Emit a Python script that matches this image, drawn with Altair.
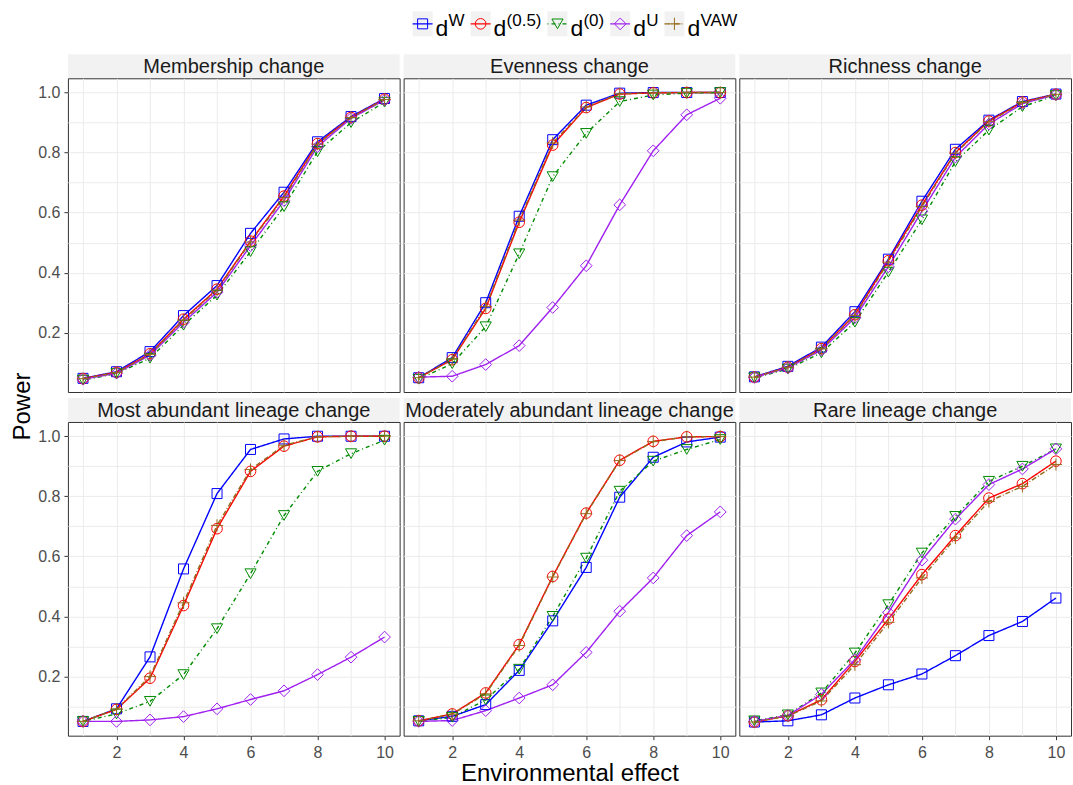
import json
import altair as alt
import pandas as pd

# ---------------- data ----------------
EFFECT = [1, 2, 3, 4, 5, 6, 7, 8, 9, 10]
SERIES = ["W", "0.5", "0", "U", "VAW"]
SUPERSCRIPTS = ["W", "(0.5)", "(0)", "U", "VAW"]
PANELS = ["Membership change", "Evenness change", "Richness change",
          "Most abundant lineage change", "Moderately abundant lineage change",
          "Rare lineage change"]

membership_W   = [0.048, 0.070, 0.137, 0.257, 0.357, 0.531, 0.668, 0.836, 0.920, 0.980]
membership_05  = [0.047, 0.068, 0.130, 0.245, 0.345, 0.505, 0.655, 0.830, 0.917, 0.978]
membership_0   = [0.042, 0.064, 0.115, 0.225, 0.325, 0.470, 0.620, 0.803, 0.900, 0.968]
membership_U   = [0.045, 0.065, 0.125, 0.235, 0.335, 0.490, 0.640, 0.820, 0.914, 0.975]
membership_VAW = [0.047, 0.067, 0.128, 0.242, 0.342, 0.502, 0.650, 0.828, 0.917, 0.977]

evenness_W   = [0.050, 0.117, 0.300, 0.588, 0.843, 0.958, 0.998, 1.000, 1.000, 1.000]
evenness_05  = [0.050, 0.110, 0.281, 0.568, 0.825, 0.950, 0.995, 0.999, 1.000, 1.000]
evenness_0   = [0.045, 0.097, 0.220, 0.463, 0.720, 0.864, 0.970, 0.992, 0.998, 1.000]
evenness_U   = [0.052, 0.055, 0.094, 0.157, 0.284, 0.423, 0.626, 0.806, 0.926, 0.981]
evenness_VAW = [0.050, 0.112, 0.287, 0.575, 0.832, 0.952, 0.996, 0.999, 1.000, 1.000]

richness_W   = [0.053, 0.088, 0.152, 0.270, 0.445, 0.638, 0.811, 0.908, 0.970, 0.995]
richness_05  = [0.052, 0.085, 0.147, 0.260, 0.440, 0.625, 0.800, 0.905, 0.968, 0.994]
richness_0   = [0.050, 0.079, 0.133, 0.235, 0.402, 0.576, 0.770, 0.875, 0.953, 0.990]
richness_U   = [0.051, 0.083, 0.142, 0.250, 0.420, 0.605, 0.785, 0.895, 0.963, 0.993]
richness_VAW = [0.052, 0.085, 0.146, 0.258, 0.435, 0.620, 0.798, 0.903, 0.967, 0.994]

most_W   = [0.050, 0.092, 0.265, 0.558, 0.809, 0.956, 0.991, 1.000, 1.000, 1.000]
most_05  = [0.050, 0.090, 0.194, 0.436, 0.692, 0.883, 0.967, 0.998, 1.000, 1.000]
most_0   = [0.050, 0.075, 0.117, 0.206, 0.359, 0.542, 0.736, 0.883, 0.942, 0.987]
most_U   = [0.050, 0.050, 0.055, 0.066, 0.092, 0.123, 0.152, 0.206, 0.264, 0.331]
most_VAW = [0.050, 0.091, 0.200, 0.445, 0.703, 0.889, 0.970, 0.998, 1.000, 1.000]

moderate_W   = [0.052, 0.067, 0.106, 0.220, 0.385, 0.563, 0.797, 0.930, 0.981, 0.997]
moderate_05  = [0.052, 0.075, 0.145, 0.306, 0.533, 0.744, 0.920, 0.983, 0.998, 0.999]
moderate_0   = [0.050, 0.064, 0.122, 0.224, 0.400, 0.594, 0.817, 0.917, 0.956, 0.989]
moderate_U   = [0.050, 0.053, 0.086, 0.128, 0.172, 0.280, 0.417, 0.528, 0.669, 0.748]
moderate_VAW = [0.052, 0.074, 0.142, 0.303, 0.531, 0.742, 0.919, 0.982, 0.998, 0.999]

rare_W   = [0.048, 0.052, 0.072, 0.128, 0.172, 0.208, 0.269, 0.336, 0.383, 0.461]
rare_05  = [0.048, 0.069, 0.122, 0.250, 0.391, 0.539, 0.669, 0.794, 0.842, 0.917]
rare_0   = [0.052, 0.072, 0.145, 0.278, 0.439, 0.611, 0.733, 0.850, 0.900, 0.958]
rare_U   = [0.050, 0.070, 0.140, 0.256, 0.413, 0.587, 0.724, 0.839, 0.891, 0.958]
rare_VAW = [0.048, 0.068, 0.118, 0.239, 0.380, 0.528, 0.661, 0.783, 0.833, 0.906]

PANEL_DATA = {
    PANELS[0]: [membership_W, membership_05, membership_0, membership_U, membership_VAW],
    PANELS[1]: [evenness_W, evenness_05, evenness_0, evenness_U, evenness_VAW],
    PANELS[2]: [richness_W, richness_05, richness_0, richness_U, richness_VAW],
    PANELS[3]: [most_W, most_05, most_0, most_U, most_VAW],
    PANELS[4]: [moderate_W, moderate_05, moderate_0, moderate_U, moderate_VAW],
    PANELS[5]: [rare_W, rare_05, rare_0, rare_U, rare_VAW],
}

X_GRID = [1, 2, 3, 4, 5, 6, 7, 8, 9, 10]
X_TICKS = [2, 4, 6, 8, 10]
Y_GRID = [0.1, 0.2, 0.3, 0.4, 0.5, 0.6, 0.7, 0.8, 0.9, 1.0]
Y_TICKS = [0.2, 0.4, 0.6, 0.8, 1.0]

# ---------------- styles ----------------
COLORS = ["#0000FF", "#FF0000", "#008B00", "#A020F0", "#946B1C"]
DASHES = [[1, 0], [1, 0], [1, 3, 4, 3], [1, 0], [5, 2, 1, 2]]
SHAPES = ["square", "circle", "triangle-down", "diamond", "M-1,0L1,0M0,-1L0,1"]
SIZES = [100, 150, 130, 150, 150]
FONT = "Liberation Sans"
PW, PH = 332, 314
STRIP_H = 24
GRID_COLOR = "#EBEBEB"
LINE_W = 1.4

rows = []
for p in PANELS:
    for s, vals in zip(SERIES, PANEL_DATA[p]):
        for e, v in zip(EFFECT, vals):
            rows.append({"panel": p, "series": s, "effect": e, "power": v})
long_df = pd.DataFrame(rows)

color_enc = alt.Color("series:N", scale=alt.Scale(domain=SERIES, range=COLORS), legend=None)
dash_enc = alt.StrokeDash("series:N", scale=alt.Scale(domain=SERIES, range=DASHES), legend=None)
shape_enc = alt.Shape("series:N", scale=alt.Scale(domain=SERIES, range=SHAPES), legend=None)
size_enc = alt.Size("series:N", scale=alt.Scale(domain=SERIES, range=SIZES), legend=None)

x_test = f"indexof({json.dumps(X_TICKS)}, datum.value) >= 0"
y_test = f"indexof({json.dumps(Y_TICKS)}, datum.value) >= 0"


def panel(name, row, col):
    df = long_df[long_df.panel == name]
    xkw = dict(values=X_GRID, grid=True, gridColor=GRID_COLOR, domain=False, title=None)
    if row == 1:
        xkw.update(labels=True, ticks=True, labelExpr=f"{x_test} ? datum.label : ''",
                   tickOpacity={"condition": {"test": x_test, "value": 1}, "value": 0},
                   labelPadding=5)
        if col == 1:
            xkw.update(title="Environmental effect", titleFontSize=24, titleFont=FONT,
                       titleFontWeight="normal", titleColor="#000000", titlePadding=1)
    else:
        xkw.update(labels=False, ticks=False)
    ykw = dict(values=Y_GRID, grid=True, gridColor=GRID_COLOR, domain=False, title=None)
    if col == 0:
        ykw.update(labels=True, ticks=True, format=".1f",
                   labelExpr=f"{y_test} ? datum.label : ''",
                   tickOpacity={"condition": {"test": y_test, "value": 1}, "value": 0},
                   labelPadding=4)
        if row == 1:
            ykw.update(title="Power", titleFontSize=24, titleFont=FONT, titleFontWeight="normal",
                       titleColor="#000000", titleAngle=270, titleX=-45, titleY=-16,
                       titleAlign="center", titleBaseline="middle")
    else:
        ykw.update(labels=False, ticks=False)
    x = alt.X("effect:Q", scale=alt.Scale(domain=[0.55, 10.45], nice=False, zero=False),
              axis=alt.Axis(**xkw))
    y = alt.Y("power:Q", scale=alt.Scale(domain=[0.0025, 1.0475], nice=False, zero=False),
              axis=alt.Axis(**ykw))
    base = alt.Chart(df)
    lines = base.mark_line(strokeWidth=LINE_W).encode(x=x, y=y, color=color_enc, strokeDash=dash_enc,
                                                      detail="series:N")
    points = base.mark_point(filled=False, strokeWidth=1, opacity=1).encode(
        x=x, y=y, color=color_enc, shape=shape_enc, size=size_enc)
    return alt.layer(lines, points).properties(width=PW, height=PH)


def strip(name, gap):
    df = pd.DataFrame({"title": [name]})
    b = alt.Chart(df)
    rect = b.mark_rect(color="#F2F2F2").encode(
        x=alt.value(0), x2=alt.value(PW), y=alt.value(gap), y2=alt.value(gap + STRIP_H))
    txt = b.mark_text(font=FONT, fontSize=20, color="#1A1A1A", baseline="middle", align="center").encode(
        x=alt.value(PW / 2), y=alt.value(gap + STRIP_H / 2 + 1), text="title:N")
    return alt.layer(rect, txt).properties(
        width=PW, height=gap + STRIP_H, view=alt.ViewBackground(stroke="transparent"))


# ---- legend (layout computed from label lengths) ----
CHAR_W = {"W": 0.944, "(": 0.333, ")": 0.333, "0": 0.556, ".": 0.278, "5": 0.556,
          "U": 0.722, "V": 0.667, "A": 0.667}
SUP_SIZE, D_SIZE = 17, 23
KEY_W = 20
leg_rows = []
pos = 9
for s, sup in zip(SERIES, SUPERSCRIPTS):
    d_x = pos + KEY_W + 3
    sup_x = d_x + 13
    sup_w = sum(CHAR_W.get(c, 0.6) for c in sup) * SUP_SIZE
    leg_rows.append({"series": s, "k0": pos, "k1": pos + KEY_W, "mid": pos + KEY_W / 2,
                     "d_x": d_x, "sup_x": sup_x, "d": "d", "sup": sup})
    pos = sup_x + sup_w + 6
leg_df = pd.DataFrame(leg_rows)
lx = alt.Scale(domain=[0, PW], nice=False, zero=False)
lb = alt.Chart(leg_df)
KEY_TOP, KEY_BOT = 10, 35
KEY_MID = (KEY_TOP + KEY_BOT) / 2
leg_rect = lb.mark_rect(color="#F2F2F2").encode(
    x=alt.X("k0:Q", scale=lx, axis=None), x2="k1:Q", y=alt.value(KEY_TOP), y2=alt.value(KEY_BOT))
leg_line = lb.mark_rule(strokeWidth=LINE_W).encode(
    x=alt.X("k0:Q", scale=lx, axis=None), x2="k1:Q", y=alt.value(KEY_MID),
    color=color_enc, strokeDash=dash_enc)
leg_pt = lb.mark_point(filled=False, strokeWidth=1, opacity=1).encode(
    x=alt.X("mid:Q", scale=lx, axis=None), y=alt.value(KEY_MID),
    color=color_enc, shape=shape_enc, size=size_enc)
leg_d = lb.mark_text(font=FONT, fontSize=D_SIZE, align="left", baseline="alphabetic", color="#000000").encode(
    x=alt.X("d_x:Q", scale=lx, axis=None), y=alt.value(KEY_BOT), text="d:N")
leg_sup = lb.mark_text(font=FONT, fontSize=SUP_SIZE, align="left", baseline="alphabetic", color="#000000").encode(
    x=alt.X("sup_x:Q", scale=lx, axis=None), y=alt.value(25), text="sup:N")
legend = alt.layer(leg_rect, leg_line, leg_pt, leg_d, leg_sup).properties(
    width=PW, height=53, view=alt.ViewBackground(stroke="transparent"))


def blank():
    return alt.Chart(pd.DataFrame({"a": [0]})).mark_point(opacity=0, size=1).encode(
        x=alt.value(PW / 2), y=alt.value(26)).properties(
        width=PW, height=53, view=alt.ViewBackground(stroke="transparent"))


cells = [blank(), legend, blank()]
cells += [strip(PANELS[i], 0) for i in range(3)]
cells += [panel(PANELS[i], 0, i) for i in range(3)]
cells += [strip(PANELS[3 + i], 6) for i in range(3)]
cells += [panel(PANELS[3 + i], 1, i) for i in range(3)]

chart = alt.concat(*cells, columns=3, spacing={"row": 0, "column": 4}, bounds="flush").resolve_scale(
    x="independent", y="independent"
).properties(
    padding={"left": 10, "top": 0, "right": 1, "bottom": 0}, background="white"
).configure_view(
    stroke="#333333", strokeWidth=1
).configure_axis(
    labelFont=FONT, labelFontSize=16, labelColor="#4D4D4D", tickColor="#333333", tickSize=4,
    gridWidth=1
)

chart.save("out.html", embed_options={"renderer": "svg", "actions": False})
